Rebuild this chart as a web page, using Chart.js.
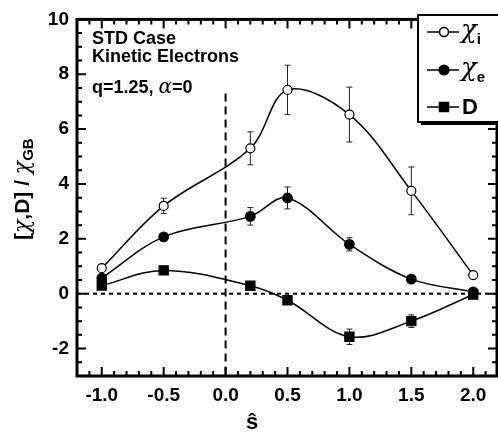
<!DOCTYPE html>
<html>
<head>
<meta charset="utf-8">
<script src="https://cdn.jsdelivr.net/npm/chart.js@4.4.1/dist/chart.umd.min.js"></script>
<style>
  html, body { margin: 0; padding: 0; background: #fff; }
  #wrap { width: 498px; height: 437px; }
</style>
</head>
<body>
<div id="wrap"><canvas id="transportChart" width="498" height="437"></canvas></div>
<script>
// shear values (x axis) and transport coefficients
const sHat = [-1.0, -0.5, 0.2, 0.5, 1.0, 1.5, 2.0];
const chiI = [0.93, 3.2, 5.3, 7.43, 6.53, 3.75, 0.68];
const chiIErr = [0, 0.28, 0.6, 0.9, 1.0, 0.87, 0];
const chiE = [0.57, 2.07, 2.82, 3.49, 1.8, 0.53, 0.07];
const chiEErr = [0, 0, 0.32, 0.4, 0.24, 0, 0];
const diffD = [0.3, 0.85, 0.29, -0.24, -1.57, -1.0, -0.03];
const diffDErr = [0, 0, 0, 0, 0.28, 0.23, 0];

const xTicks = [-1.0, -0.5, 0.0, 0.5, 1.0, 1.5, 2.0];
const yTicks = [-2, 0, 2, 4, 6, 8, 10];

const FONT = '"Liberation Sans", Arial, Helvetica, sans-serif';

const toPoints = (ys) => sHat.map((x, i) => ({ x: x, y: ys[i] }));

const series = [
    { label: 'χ', sub: 'i', data: chiI, err: chiIErr, style: 'circle', fill: '#fff', radius: 4.5 },
    { label: 'χ', sub: 'e', data: chiE, err: chiEErr, style: 'circle', fill: '#000', radius: 4.8 },
    { label: 'D', sub: '', data: diffD, err: diffDErr, style: 'rect', fill: '#000', radius: 6.5 }
];

// inward ticks, frame, reference lines, error bars, legend, texts
const decorations = {
    id: 'decorations',
    beforeDatasetsDraw(chart) {
        const { ctx, chartArea: a, scales: { x, y } } = chart;
        ctx.save();
        ctx.strokeStyle = '#000';

        // dotted zero line
        ctx.lineWidth = 2;
        ctx.setLineDash([4, 4]);
        ctx.beginPath();
        ctx.moveTo(a.left, y.getPixelForValue(0));
        ctx.lineTo(a.right, y.getPixelForValue(0));
        ctx.stroke();

        // dashed line at s = 0
        ctx.setLineDash([8, 5]);
        ctx.beginPath();
        ctx.moveTo(x.getPixelForValue(0), y.getPixelForValue(7.3));
        ctx.lineTo(x.getPixelForValue(0), a.bottom);
        ctx.stroke();
        ctx.setLineDash([]);

        // error bars
        ctx.lineWidth = 1;
        ctx.strokeStyle = '#222';
        series.forEach(s => {
            s.data.forEach((v, i) => {
                const e = s.err[i];
                if (!e) return;
                const px = x.getPixelForValue(sHat[i]);
                const top = y.getPixelForValue(v + e);
                const bot = y.getPixelForValue(v - e);
                ctx.beginPath();
                ctx.moveTo(px, top); ctx.lineTo(px, bot);
                ctx.moveTo(px - 3, top); ctx.lineTo(px + 3, top);
                ctx.moveTo(px - 3, bot); ctx.lineTo(px + 3, bot);
                ctx.stroke();
            });
        });
        ctx.restore();
    },
    afterDraw(chart) {
        const { ctx, chartArea: a, scales: { x, y } } = chart;
        ctx.save();
        ctx.strokeStyle = '#000';
        ctx.fillStyle = '#000';

        // ticks on all four sides
        ctx.lineWidth = 2;
        ctx.beginPath();
        for (let k = -30; k <= 100; k += 5) {
            const v = k / 10;
            const py = y.getPixelForValue(v);
            const len = (k % 20 === 0) ? 9 : 5;
            ctx.moveTo(a.left, py); ctx.lineTo(a.left + len, py);
            ctx.moveTo(a.right - 1, py); ctx.lineTo(a.right - 1 - len, py);
        }
        for (let k = -12; k <= 22; k++) {
            const v = k / 10;
            const px = x.getPixelForValue(v);
            const len = (k % 5 === 0) ? 9 : 5;
            ctx.moveTo(px, a.bottom); ctx.lineTo(px, a.bottom - len);
            ctx.moveTo(px, a.top); ctx.lineTo(px, a.top + len);
        }
        ctx.stroke();

        // frame
        ctx.lineWidth = 3;
        ctx.strokeRect(a.left, a.top, a.right - a.left - 1, a.bottom - a.top);

        // annotation text
        ctx.textBaseline = 'middle';
        ctx.textAlign = 'left';
        ctx.font = 'bold 18px ' + FONT;
        ctx.fillText('STD Case', 92, 39);
        ctx.fillText('Kinetic Electrons', 92, 57);
        let tx = 92;
        ctx.fillText('q=1.25, ', tx, 88);
        tx += ctx.measureText('q=1.25, ').width;
        ctx.font = 'italic 20px "DejaVu Serif", serif';
        ctx.fillText('α', tx, 88);
        tx += ctx.measureText('α').width;
        ctx.font = 'bold 18px ' + FONT;
        ctx.fillText('=0', tx, 88);

        // x title: s-hat
        ctx.textAlign = 'center';
        ctx.font = 'bold 22px ' + FONT;
        ctx.fillText('ŝ', 252, 423);

        // y title, rotated
        ctx.save();
        ctx.translate(23, 240);
        ctx.rotate(-Math.PI / 2);
        ctx.textAlign = 'left';
        let ty = 0;
        const parts = [['[', 'bold 21px ' + FONT], ['χ', 'italic 22px "DejaVu Serif", serif'],
            [',D] / ', 'bold 21px ' + FONT], ['χ', 'italic 22px "DejaVu Serif", serif']];
        parts.forEach(p => {
            ctx.font = p[1];
            ctx.fillText(p[0], ty, 0);
            ty += ctx.measureText(p[0]).width;
        });
        ctx.font = 'bold 15px ' + FONT;
        ctx.fillText('GB', ty, 6);
        ctx.restore();

        // legend box with shadow
        const bx = 418, by = 15, bw = 84, bh = 107;
        ctx.fillRect(bx + 3, by + 3, bw, bh);
        ctx.fillStyle = '#fff';
        ctx.fillRect(bx, by, bw, bh);
        ctx.lineWidth = 2;
        ctx.strokeRect(bx, by, bw, bh);

        const rows = [32, 70, 107];
        series.forEach((s, i) => {
            const ry = rows[i];
            ctx.strokeStyle = '#000';
            ctx.lineWidth = 1.5;
            ctx.beginPath();
            ctx.moveTo(427, ry); ctx.lineTo(459, ry);
            ctx.stroke();
            ctx.fillStyle = s.fill;
            ctx.beginPath();
            if (s.style === 'circle') {
                ctx.arc(444, ry, s.radius, 0, Math.PI * 2);
            } else {
                ctx.rect(439.5, ry - 4.5, 9, 9);
            }
            ctx.fill();
            ctx.stroke();
            ctx.fillStyle = '#000';
            ctx.textAlign = 'left';
            ctx.textBaseline = 'middle';
            if (s.sub) {
                ctx.font = 'italic 26px "DejaVu Serif", serif';
                ctx.fillText(s.label, 461, ry - 1);
                const w = ctx.measureText(s.label).width;
                ctx.font = 'bold 15px ' + FONT;
                ctx.fillText(s.sub, 461 + w, ry + 8);
            } else {
                ctx.font = 'bold 22px ' + FONT;
                ctx.fillText(s.label, 462, ry + 1);
            }
        });
        ctx.restore();
    }
};

const ctx = document.getElementById('transportChart').getContext('2d');

const data = {
    datasets: series.map(s => ({
        label: s.label + s.sub,
        data: toPoints(s.data),
        borderColor: '#000',
        borderWidth: 1.5,
        tension: 0.35,
        pointStyle: s.style,
        pointRadius: s.radius,
        pointBackgroundColor: s.fill,
        pointBorderColor: '#000',
        pointBorderWidth: 1.2,
        fill: false
    }))
};

const options = {
    responsive: false,
    animation: false,
    devicePixelRatio: 1,
    layout: { autoPadding: false, padding: { top: 11, right: 0, left: 0, bottom: 0 } },
    plugins: {
        legend: { display: false },
        tooltip: { enabled: false }
    },
    scales: {
        x: {
            type: 'linear',
            min: -1.2,
            max: 2.2,
            grid: { display: false, drawTicks: false },
            border: { display: false },
            afterFit: (scale) => { scale.height = 61; },
            afterBuildTicks: (scale) => { scale.ticks = xTicks.map(v => ({ value: v })); },
            ticks: {
                color: '#000',
                padding: 8,
                font: { family: FONT, size: 19, weight: 'bold' },
                callback: (v) => Number(v).toFixed(1)
            }
        },
        y: {
            type: 'linear',
            min: -3,
            max: 10,
            grid: { display: false, drawTicks: false },
            border: { display: false },
            afterFit: (scale) => { scale.width = 77; },
            afterBuildTicks: (scale) => { scale.ticks = yTicks.map(v => ({ value: v })); },
            ticks: {
                color: '#000',
                padding: 8,
                font: { family: FONT, size: 19, weight: 'bold' },
                callback: (v) => String(v)
            }
        }
    }
};

const transportChart = new Chart(ctx, {
    type: 'line',
    data: data,
    options: options,
    plugins: [decorations]
});
</script>
</body>
</html>
